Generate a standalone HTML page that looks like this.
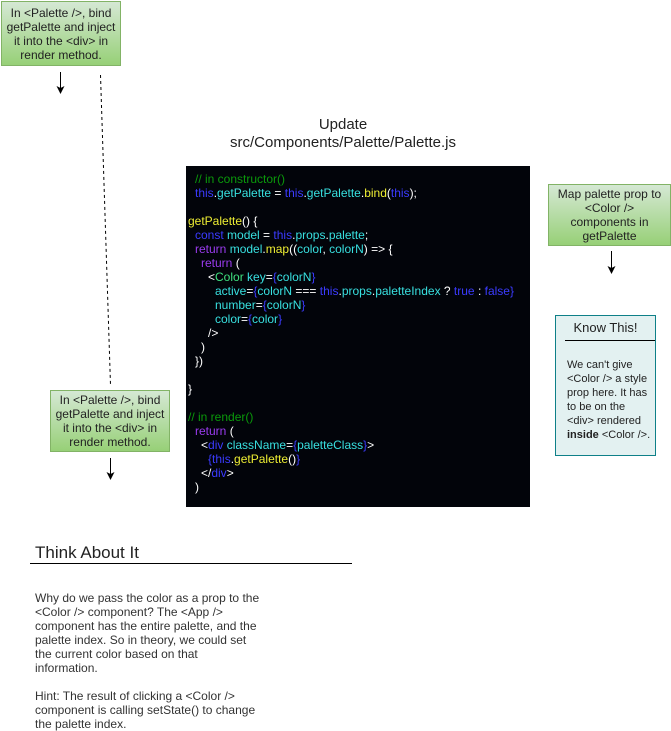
<!DOCTYPE html>
<html><head><meta charset="utf-8"><style>
body{margin:0;width:671px;height:730px;background:#fff;position:relative;overflow:hidden;font-family:"Liberation Sans",sans-serif;}
.a{position:absolute}
.g{position:absolute;background:linear-gradient(#d5e8d4,#97d077);border:1px solid #82b366;box-sizing:border-box;text-align:center;font-size:12px;line-height:14px;color:#222;display:flex;align-items:center;justify-content:center}
.code{position:absolute;left:186px;top:166px;width:344px;height:341px;background:#02040a}
.ln{position:absolute;left:0;font-size:12px;white-space:pre;color:#fff;line-height:14px}
.c{color:#0a9a0a}.t{color:#3b3bff}.y{color:#eeee33}.k{color:#9b3cf0}.i{color:#38e0e0}.w{color:#fff}.gr{color:#3fe07f}
</style></head><body>
<div class="g" style="left:1px;top:1px;width:120px;height:65px">In &lt;Palette /&gt;, bind<br>getPalette and inject<br>it into the &lt;div&gt; in<br>render method.</div>
<div class="g" style="left:50px;top:390px;width:120px;height:62px">In &lt;Palette /&gt;, bind<br>getPalette and inject<br>it into the &lt;div&gt; in<br>render method.</div>
<div class="g" style="left:548px;top:184px;width:123px;height:62px">Map palette prop to<br>&lt;Color /&gt;<br>components in<br>getPalette</div>
<svg class="a" style="left:0;top:0" width="671" height="730">
<line x1="60.5" y1="72" x2="60.5" y2="88" stroke="#000"/>
<polygon points="56.5,86 60.5,94 64.5,86 60.5,88" fill="#000"/>
<line x1="110.5" y1="458" x2="110.5" y2="474" stroke="#000"/>
<polygon points="106.5,472 110.5,480 114.5,472 110.5,474" fill="#000"/>
<line x1="611.5" y1="251" x2="611.5" y2="268" stroke="#000"/>
<polygon points="607.5,266 611.5,274 615.5,266 611.5,268" fill="#000"/>
<line x1="100.5" y1="75" x2="110.5" y2="385" stroke="#000" stroke-dasharray="3,3"/>
<line x1="30" y1="563.5" x2="352" y2="563.5" stroke="#000"/>
</svg>
<div class="a" style="left:180px;width:326px;top:116px;text-align:center;font-size:15px;line-height:18px;color:#222">Update<br>src/Components/Palette/Palette.js</div>
<div class="code">
<div class="ln" style="top:6px;left:9px"><span class="c">// in constructor()</span></div>
<div class="ln" style="top:20px;left:9px"><span class="t">this</span>.<span class="i">getPalette</span> = <span class="t">this</span>.<span class="i">getPalette</span>.<span class="y">bind</span>(<span class="t">this</span>);</div>
<div class="ln" style="top:48px;left:2px"><span class="y">getPalette</span>() {</div>
<div class="ln" style="top:62px;left:9px"><span class="t">const</span> <span class="i">model</span> = <span class="t">this</span>.<span class="i">props</span>.<span class="i">palette</span>;</div>
<div class="ln" style="top:76px;left:9px"><span class="k">return</span> <span class="i">model</span>.<span class="y">map</span>((<span class="i">color</span>, <span class="i">colorN</span>) =&gt; {</div>
<div class="ln" style="top:90px;left:15px"><span class="k">return</span> (</div>
<div class="ln" style="top:104px;left:22px">&lt;<span class="gr">Color</span> <span class="i">key</span>=<span class="t">{</span><span class="i">colorN</span><span class="t">}</span></div>
<div class="ln" style="top:118px;left:29px"><span class="i">active</span>=<span class="t">{</span><span class="i">colorN</span> === <span class="t">this</span>.<span class="i">props</span>.<span class="i">paletteIndex</span> ? <span class="t">true</span> : <span class="t">false}</span></div>
<div class="ln" style="top:132px;left:29px"><span class="i">number</span>=<span class="t">{</span><span class="i">colorN</span><span class="t">}</span></div>
<div class="ln" style="top:146px;left:29px"><span class="i">color</span>=<span class="t">{</span><span class="i">color</span><span class="t">}</span></div>
<div class="ln" style="top:160px;left:22px">/&gt;</div>
<div class="ln" style="top:174px;left:15px">)</div>
<div class="ln" style="top:188px;left:9px">})</div>
<div class="ln" style="top:216px;left:2px">}</div>
<div class="ln" style="top:244px;left:2px"><span class="c">// in render()</span></div>
<div class="ln" style="top:258px;left:9px"><span class="k">return</span> (</div>
<div class="ln" style="top:272px;left:15px">&lt;<span class="t">div</span> <span class="i">className</span>=<span class="t">{</span><span class="i">paletteClass</span><span class="t">}</span>&gt;</div>
<div class="ln" style="top:286px;left:22px"><span class="t">{</span><span class="t">this</span>.<span class="y">getPalette</span>()<span class="t">}</span></div>
<div class="ln" style="top:300px;left:15px">&lt;/<span class="t">div</span>&gt;</div>
<div class="ln" style="top:314px;left:9px">)</div>
</div>
<div class="a" style="left:555px;top:315px;width:101px;height:141px;box-sizing:border-box;background:#e3f1f1;border:1px solid #0e8088"></div>
<div class="a" style="left:556px;top:320px;width:99px;text-align:center;font-size:13px;color:#222">Know This!</div>
<div class="a" style="left:565px;top:340px;width:90px;height:1px;background:#000"></div>
<div class="a" style="left:567px;top:358px;width:90px;font-size:11px;line-height:14px;color:#222">We can't give<br>&lt;Color /&gt; a style<br>prop here. It has<br>to be on the<br>&lt;div&gt; rendered<br><b>inside</b> &lt;Color /&gt;.</div>
<div class="a" style="left:35px;top:543px;font-size:17px;color:#222">Think About It</div>
<div class="a" style="left:35px;top:591px;width:260px;font-size:12px;line-height:14px;color:#333">Why do we pass the color as a prop to the<br>&lt;Color /&gt; component? The &lt;App /&gt;<br>component has the entire palette, and the<br>palette index. So in theory, we could set<br>the current color based on that<br>information.<br><br>Hint: The result of clicking a &lt;Color /&gt;<br>component is calling setState() to change<br>the palette index.</div>
</body></html>
